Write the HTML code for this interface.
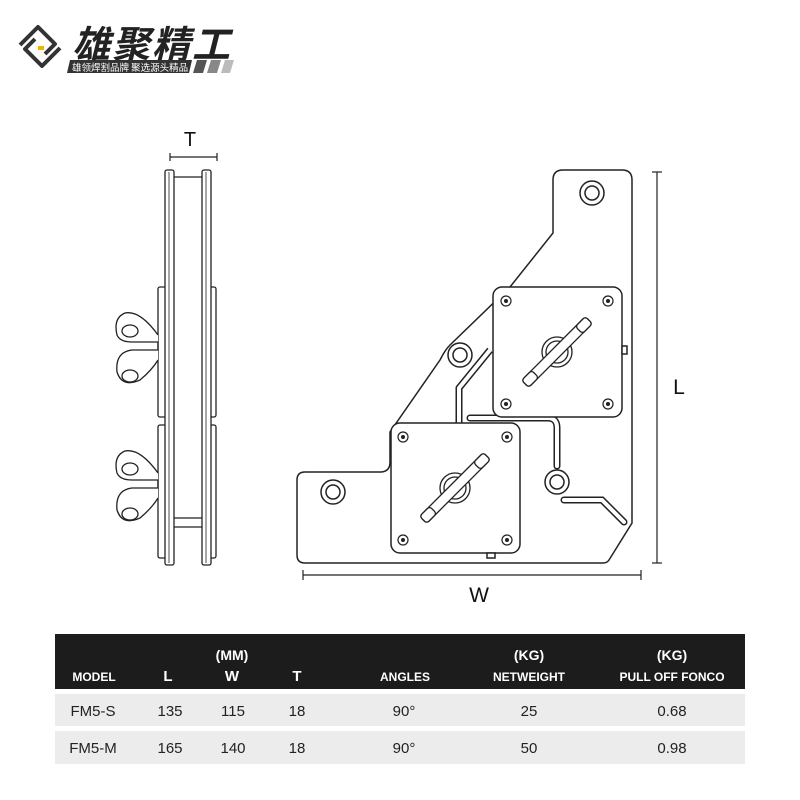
<!DOCTYPE html>
<html><head><meta charset="utf-8"><style>
body{margin:0;background:#fff;}
svg{display:block;font-family:"Liberation Sans","Noto Sans CJK SC",sans-serif;}
</style></head><body>
<svg width="800" height="800" viewBox="0 0 800 800" xmlns="http://www.w3.org/2000/svg">
<rect width="800" height="800" fill="#fff"/>
<!-- logo -->
<g fill="none" stroke="#333" stroke-width="4" stroke-linejoin="round">
<path d="M20 45 L38 27 L55 44 L45 54"/>
<path d="M60 48 L42 66 L25 49 L35 39"/>
</g>
<rect x="38" y="46" width="6" height="4" fill="#f0b400"/>
<text x="72" y="58" font-size="38" font-weight="bold" font-style="italic" letter-spacing="2" fill="#222" font-family="'Noto Sans CJK SC',sans-serif">雄聚精工</text>
<polygon points="70,60 192,60 189,73 67,73" fill="#333"/>
<text x="72" y="71" font-size="9.5" fill="#fff" font-family="'Noto Sans CJK SC',sans-serif">雄领焊割品牌 聚选源头精品</text>
<polygon points="197,60 207,60 203,73 193,73" fill="#555"/>
<polygon points="211,60 221,60 217,73 207,73" fill="#888"/>
<polygon points="225,60 234,60 230,73 221,73" fill="#bbb"/>

<!-- side view -->
<g stroke="#222" stroke-width="1.3" fill="#fff">
<rect x="158" y="287" width="8" height="130" rx="2"/>
<rect x="158" y="425" width="8" height="133" rx="2"/>
<rect x="209" y="287" width="7" height="130" rx="2"/>
<rect x="209" y="425" width="7" height="133" rx="2"/>
<rect x="165" y="170" width="9" height="395" rx="2"/>
<rect x="202" y="170" width="9" height="395" rx="2"/>
<line x1="174" y1="177" x2="202" y2="177"/>
<line x1="174" y1="518" x2="202" y2="518"/>
<line x1="174" y1="527" x2="202" y2="527"/>
<line x1="169" y1="172" x2="169" y2="563" stroke-width="0.8"/>
<line x1="206" y1="172" x2="206" y2="563" stroke-width="0.8"/>
<path d="M158 335 Q140 310 125 313 Q113 318 117 335 Q120 342 132 342 L158 342 L158 350 L132 350 Q115 352 117 372 Q122 388 140 380 Q152 370 158 360"/>
<ellipse cx="130" cy="331" rx="8" ry="6"/><ellipse cx="130" cy="376" rx="8" ry="6"/>
<path d="M158 473 Q140 448 125 451 Q113 456 117 473 Q120 480 132 480 L158 480 L158 488 L132 488 Q115 490 117 510 Q122 526 140 518 Q152 508 158 498"/>
<ellipse cx="130" cy="469" rx="8" ry="6"/><ellipse cx="130" cy="514" rx="8" ry="6"/>
</g>
<g stroke="#222" stroke-width="1.2">
<line x1="170" y1="157" x2="217" y2="157"/><line x1="170" y1="153" x2="170" y2="161"/><line x1="217" y1="153" x2="217" y2="161"/>
</g>
<text x="190" y="146" font-size="20" text-anchor="middle" fill="#111">T</text>

<!-- main plate -->
<g stroke="#222" stroke-width="1.5" fill="#fff">
<path d="M563 170 H622 Q632 170 632 180 V523 L609 560 Q607 563 603 563 H305 Q297 563 297 555 V480 Q297 472 305 472 H380 Q390 472 390 462 V432 L440 360 Q445 350 450 345 L510 287 L553 233 V180 Q553 170 563 170 Z"/>
<path d="M490 350 L459 388 V423" stroke="#222" stroke-width="7" fill="none" stroke-linejoin="round"/>
<path d="M490 350 L459 388 V423" stroke="#fff" stroke-width="4" fill="none" stroke-linejoin="round"/>
<path d="M470 418 H548 Q557 418 557 428 V466" stroke="#222" stroke-width="7" fill="none" stroke-linecap="round"/>
<path d="M470 418 H548 Q557 418 557 428 V466" stroke="#fff" stroke-width="4" fill="none" stroke-linecap="round"/>
<path d="M564 500 H602 L624 522" stroke="#222" stroke-width="7" fill="none" stroke-linecap="round"/>
<path d="M564 500 H602 L624 522" stroke="#fff" stroke-width="4" fill="none" stroke-linecap="round"/>
<circle cx="592" cy="193" r="12"/><circle cx="592" cy="193" r="7"/>
<circle cx="460" cy="355" r="12"/><circle cx="460" cy="355" r="7"/>
<circle cx="333" cy="492" r="12"/><circle cx="333" cy="492" r="7"/>
<circle cx="557" cy="482" r="12"/><circle cx="557" cy="482" r="7"/>
<rect x="493" y="287" width="129" height="130" rx="9"/>
<rect x="391" y="423" width="129" height="130" rx="9"/>
<rect x="487" y="553" width="8" height="5"/>
<rect x="622" y="346" width="5" height="8"/>
</g>
<g stroke="#222" stroke-width="1.2" fill="#fff">
<circle cx="506" cy="301" r="5"/><circle cx="608" cy="301" r="5"/><circle cx="506" cy="404" r="5"/><circle cx="608" cy="404" r="5"/>
<circle cx="403" cy="437" r="5"/><circle cx="507" cy="437" r="5"/><circle cx="403" cy="540" r="5"/><circle cx="507" cy="540" r="5"/>
</g>
<g fill="#222">
<circle cx="506" cy="301" r="2"/><circle cx="608" cy="301" r="2"/><circle cx="506" cy="404" r="2"/><circle cx="608" cy="404" r="2"/>
<circle cx="403" cy="437" r="2"/><circle cx="507" cy="437" r="2"/><circle cx="403" cy="540" r="2"/><circle cx="507" cy="540" r="2"/>
</g>
<g stroke="#222" stroke-width="1.3" fill="#fff">
<g transform="translate(557,352) rotate(-45)">
<circle r="15"/><circle r="11"/>
<rect x="-45" y="-5" width="90" height="10" rx="3"/>
<rect x="-45" y="-5" width="14" height="10" rx="3"/><rect x="31" y="-5" width="14" height="10" rx="3"/>
</g>
<g transform="translate(455,488) rotate(-45)">
<circle r="15"/><circle r="11"/>
<rect x="-45" y="-5" width="90" height="10" rx="3"/>
<rect x="-45" y="-5" width="14" height="10" rx="3"/><rect x="31" y="-5" width="14" height="10" rx="3"/>
</g>
</g>
<g stroke="#222" stroke-width="1.2">
<line x1="303" y1="575" x2="641" y2="575"/><line x1="303" y1="570" x2="303" y2="580"/><line x1="641" y1="570" x2="641" y2="580"/>
<line x1="657" y1="172" x2="657" y2="563"/><line x1="652" y1="172" x2="662" y2="172"/><line x1="652" y1="563" x2="662" y2="563"/>
</g>
<text x="479" y="602" font-size="21" text-anchor="middle" fill="#111">W</text>
<text x="679" y="394" font-size="21" text-anchor="middle" fill="#111">L</text>

<!-- table -->
<rect x="55" y="634" width="690" height="55" fill="#1c1c1c"/>
<rect x="55" y="694" width="690" height="32" fill="#ececec"/>
<rect x="55" y="731" width="690" height="33" fill="#ececec"/>
<g fill="#fff" font-weight="bold" text-anchor="middle" font-size="12">
<text x="232" y="660" font-size="14">(MM)</text>
<text x="529" y="660" font-size="14">(KG)</text>
<text x="672" y="660" font-size="14">(KG)</text>
<text x="94" y="681">MODEL</text>
<text x="168" y="681" font-size="15">L</text>
<text x="232" y="681" font-size="15">W</text>
<text x="297" y="681" font-size="15">T</text>
<text x="405" y="681">ANGLES</text>
<text x="529" y="681">NETWEIGHT</text>
<text x="672" y="681">PULL OFF FONCO</text>
</g>
<g fill="#222" text-anchor="middle" font-size="15">
<text x="93" y="716">FM5-S</text><text x="170" y="716">135</text><text x="233" y="716">115</text><text x="297" y="716">18</text><text x="404" y="716">90°</text><text x="529" y="716">25</text><text x="672" y="716">0.68</text>
<text x="93" y="753">FM5-M</text><text x="170" y="753">165</text><text x="233" y="753">140</text><text x="297" y="753">18</text><text x="404" y="753">90°</text><text x="529" y="753">50</text><text x="672" y="753">0.98</text>
</g>
</svg>
</body></html>
